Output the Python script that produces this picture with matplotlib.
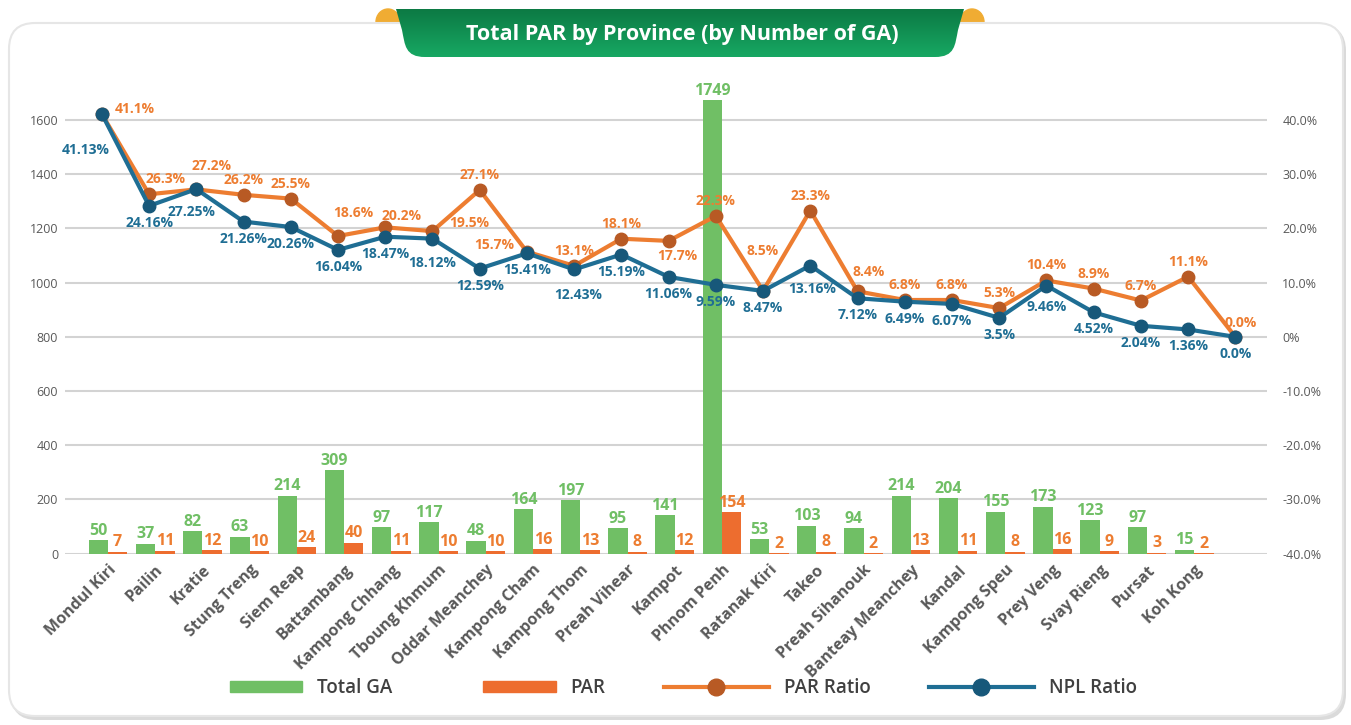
import matplotlib.pyplot as plt
import numpy as np
from matplotlib.patches import FancyBboxPatch, PathPatch, Ellipse, Patch, Rectangle
from matplotlib.path import Path
from matplotlib.lines import Line2D
from matplotlib.colors import LinearSegmentedColormap
from matplotlib.legend_handler import HandlerPatch

plt.rcParams['font.family'] = ['Open Sans', 'DejaVu Sans']

provinces = ['Mondul Kiri', 'Pailin', 'Kratie', 'Stung Treng', 'Siem Reap', 'Battambang',
             'Kampong Chhang', 'Tboung Khmum', 'Oddar Meanchey', 'Kampong Cham', 'Kampong Thom',
             'Preah Vihear', 'Kampot', 'Phnom Penh', 'Ratanak Kiri', 'Takeo', 'Preah Sihanouk',
             'Banteay Meanchey', 'Kandal', 'Kampong Speu', 'Prey Veng', 'Svay Rieng', 'Pursat',
             'Koh Kong']
total_ga = [50, 37, 82, 63, 214, 309, 97, 117, 48, 164, 197, 95, 141, 1749, 53, 103, 94,
            214, 204, 155, 173, 123, 97, 15]
par = [7, 11, 12, 10, 24, 40, 11, 10, 10, 16, 13, 8, 12, 154, 2, 8, 2, 13, 11, 8, 16, 9, 3, 2]
# the ratio series carry one more point than the bars
par_ratio = [41.1, 26.3, 27.2, 26.2, 25.5, 18.6, 20.2, 19.5, 27.1, 15.7, 13.1, 18.1, 17.7,
             22.3, 8.5, 23.3, 8.4, 6.8, 6.8, 5.3, 10.4, 8.9, 6.7, 11.1, 0.0]
npl_ratio = [41.13, 24.16, 27.25, 21.26, 20.26, 16.04, 18.47, 18.12, 12.59, 15.41, 12.43,
             15.19, 11.06, 9.59, 8.47, 13.16, 7.12, 6.49, 6.07, 3.5, 9.46, 4.52, 2.04, 1.36, 0.0]

left_ticks = [0, 200, 400, 600, 800, 1000, 1200, 1400, 1600]
right_ticks = [-40, -30, -20, -10, 0, 10, 20, 30, 40]

GREEN = '#70BF65'
ORANGE_BAR = '#ED6D2F'
ORANGE = '#ED7D31'
ORANGE_DARK = '#B85A24'
BLUE = '#1F6E94'
BLUE_DARK = '#17587A'
GREY = '#595959'

# label offsets in pixels (dx, dy), dy positive = up
par_off = {0: (33, 5), 1: (16, 15), 2: (15, 23), 5: (15, 23), 6: (16, 11), 7: (37, 8),
           9: (-33, 7), 12: (9, -15), 14: (0, 40), 16: (11, 19), 24: (5, 14)}
npl_off = {0: (-16, -36), 2: (-5, -23), 7: (0, -24), 10: (4, -26), 15: (2, -23), 20: (0, -21)}

W, H = 1351, 725
fig = plt.figure(figsize=(W / 100, H / 100), dpi=100)

# background: frame + title ribbon, drawn in pixel coords
bg = fig.add_axes([0, 0, 1, 1])
bg.set_xlim(0, W)
bg.set_ylim(H, 0)
bg.axis('off')

bg.add_patch(Ellipse((388, 22), 24, 26, color='#F0AC33', zorder=1))
bg.add_patch(Ellipse((972, 22), 24, 26, color='#F0AC33', zorder=1))
bg.add_patch(FancyBboxPatch((11, 25), 1335, 695, boxstyle='round,pad=0,rounding_size=26',
                            fc='#DADADA', ec='none', zorder=2))
bg.add_patch(FancyBboxPatch((9, 23), 1334, 693, boxstyle='round,pad=0,rounding_size=26',
                            fc='white', ec='#E6E6E6', lw=1.5, zorder=3))

verts = [(396, 9), (964, 9), (958, 30), (955, 45), (955, 57), (935, 57), (425, 57),
         (405, 57), (405, 45), (402, 30), (396, 9)]
codes = [Path.MOVETO, Path.LINETO, Path.LINETO, Path.CURVE4, Path.CURVE4, Path.CURVE4,
         Path.LINETO, Path.CURVE4, Path.CURVE4, Path.CURVE4, Path.CLOSEPOLY]
ribbon = PathPatch(Path(verts, codes), fc='none', ec='none', zorder=4)
bg.add_patch(ribbon)
grad = np.linspace(0, 1, 64).reshape(-1, 1)
cmap = LinearSegmentedColormap.from_list('rib', ['#0C7A44', '#17A863'])
img = bg.imshow(grad, cmap=cmap, extent=(396, 964, 57, 9), aspect='auto', zorder=4)
img.set_clip_path(ribbon)
bg.text(682, 34, 'Total PAR by Province (by Number of GA)', color='white', fontsize=15.5,
        fontweight='bold', ha='center', va='center', zorder=5)

# main chart
top_px, base_px, left_px, right_px = 100, 553.7, 65, 1267
ax = fig.add_axes([left_px / W, 1 - base_px / H, (right_px - left_px) / W, (base_px - top_px) / H])
ax.patch.set_visible(False)
ymax = 1600 * (base_px - top_px) / (base_px - 120)
ax.set_ylim(0, ymax)
ax.set_xlim(-0.91, 24.54)

x = np.arange(len(provinces))
bw = 0.41
ax.bar(x - bw / 2, total_ga, bw, color=GREEN, zorder=3)
ax.bar(x + bw / 2, par, bw, color=ORANGE_BAR, zorder=3)

for xi, v in zip(x, total_ga):
    ax.annotate(str(v), (xi - bw / 2, min(v, ymax)), xytext=(0, 1), textcoords='offset points',
                ha='center', va='bottom', color=GREEN, fontsize=11.5, fontweight='bold',
                annotation_clip=False)
for xi, v in zip(x, par):
    ax.annotate(str(v), (xi + bw / 2, v), xytext=(0, 1), textcoords='offset points',
                ha='center', va='bottom', color=ORANGE, fontsize=11.5, fontweight='bold')

ax.set_yticks(left_ticks)
ax.set_yticklabels([str(t) for t in left_ticks], color=GREY, fontsize=9)
ax.grid(axis='y', color='#D3D3D3', lw=1.5, zorder=0)
for s in ax.spines.values():
    s.set_visible(False)
ax.tick_params(length=0, axis='y', pad=5)
ax.tick_params(length=0, axis='x', pad=6)
ax.set_xticks(x)
ax.set_xticklabels(provinces, rotation=45, ha='right', rotation_mode='anchor',
                   color=GREY, fontsize=11.5, fontweight='bold')

ax2 = ax.twinx()
lo = (0 - 800) / 20
hi = (ymax - 800) / 20
ax2.set_ylim(lo, hi)
ax2.set_yticks(right_ticks)
ax2.set_yticklabels(['0%' if t == 0 else f'{t:.1f}%' for t in right_ticks], color=GREY, fontsize=9)
ax2.tick_params(length=0, pad=11)
for s in ax2.spines.values():
    s.set_visible(False)

xl = np.arange(len(par_ratio)) - 0.13
ax2.plot(xl, par_ratio, color=ORANGE, lw=3, marker='o', ms=9, mfc=ORANGE_DARK,
         mec=ORANGE_DARK, zorder=4)
ax2.plot(xl, npl_ratio, color=BLUE, lw=3, marker='o', ms=9, mfc=BLUE_DARK,
         mec=BLUE_DARK, zorder=5)

for j, v in enumerate(par_ratio):
    dx, dy = par_off.get(j, (0, 15))
    ax2.annotate(f'{v}%', (xl[j], v), xytext=(dx * 0.72, dy * 0.72), textcoords='offset points',
                 ha='center', va='center', color=ORANGE, fontsize=10, fontweight='bold',
                 zorder=6, annotation_clip=False)
for j, v in enumerate(npl_ratio):
    dx, dy = npl_off.get(j, (0, -17))
    ax2.annotate(f'{v}%', (xl[j], v), xytext=(dx * 0.72, dy * 0.72), textcoords='offset points',
                 ha='center', va='center', color=BLUE, fontsize=10, fontweight='bold',
                 zorder=6, annotation_clip=False)


# bar swatches in the legend are shorter than the line swatches
def short_rect(legend, orig_handle, xdescent, ydescent, width, height, fontsize):
    w = 52
    return Rectangle((-xdescent + width - w, -ydescent), w, height)


handles = [Patch(color=GREEN), Patch(color=ORANGE_BAR),
           Line2D([], [], color=ORANGE, lw=3, marker='o', ms=12, mfc=ORANGE_DARK, mec=ORANGE_DARK),
           Line2D([], [], color=BLUE, lw=3, marker='o', ms=12, mfc=BLUE_DARK, mec=BLUE_DARK)]
leg = fig.legend(handles, ['Total GA', 'PAR', 'PAR Ratio', 'NPL Ratio'], loc='center',
                 bbox_to_anchor=(0.4937, 1 - 688 / H), ncol=4, frameon=False, fontsize=13.5,
                 handlelength=5.6, handleheight=0.55, columnspacing=3.1, handletextpad=0.8,
                 handler_map={Patch: HandlerPatch(patch_func=short_rect)})
for t in leg.get_texts():
    t.set_color('#404040')
    t.set_fontweight('semibold')

fig.savefig('out.png', dpi=100)
